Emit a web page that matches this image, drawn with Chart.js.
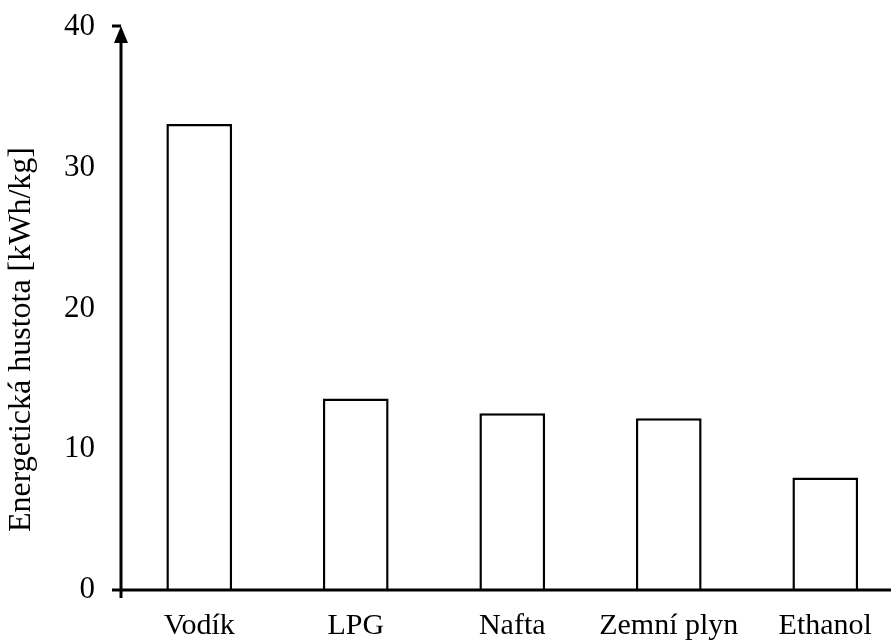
<!DOCTYPE html>
<html><head><meta charset="utf-8">
<script src="https://cdn.jsdelivr.net/npm/chart.js@4"></script>
<style>html,body{margin:0;padding:0;background:#fff}#wrap{width:891px;height:642px}</style>
</head><body><div id="wrap"><canvas id="c" width="891" height="642"></canvas></div>
<script>
const categories = ["Vodík", "LPG", "Nafta", "Zemní plyn", "Ethanol"];
const values = [33.1, 13.6, 12.55, 12.2, 8.0];
const yTicks = [0, 10, 20, 30, 40];
const yTitle = "Energetická hustota [kWh/kg]";

const axesPlugin = {
  id: 'axesPlugin',
  afterDraw(chart) {
    const ctx = chart.ctx;
    const y = chart.scales.y;
    const a = chart.chartArea;
    const x0 = a.left, y0 = y.getPixelForValue(0), yTop = y.getPixelForValue(40);
    ctx.save();
    ctx.strokeStyle = '#000';
    ctx.fillStyle = '#000';
    ctx.lineWidth = 3;
    ctx.beginPath();
    ctx.moveTo(x0, y0 + 8); ctx.lineTo(x0, yTop + 14);
    ctx.moveTo(x0 - 9, y0); ctx.lineTo(chart.width, y0);
    ctx.moveTo(x0 - 9, yTop - 1); ctx.lineTo(x0, yTop - 1);
    ctx.stroke();
    ctx.beginPath();
    ctx.moveTo(x0, yTop - 1); ctx.lineTo(x0 - 7, yTop + 16); ctx.lineTo(x0 + 7, yTop + 16); ctx.closePath();
    ctx.fill();
    // y axis title
    ctx.translate(22, (y0 + yTop) / 2 + 31);
    ctx.rotate(-Math.PI / 2);
    ctx.font = '32px "Liberation Serif"';
    ctx.textAlign = 'center';
    ctx.textBaseline = 'middle';
    ctx.fillText(yTitle, 0, 0);
    ctx.restore();
  }
};

new Chart(document.getElementById('c'), {
  type: 'bar',
  data: { datasets: [{ data: values.map((v, i) => ({ x: i, y: v })), backgroundColor: '#fff', borderColor: '#000', borderWidth: 2.5, barPercentage: 0.84, categoryPercentage: 0.5 }] },
  options: {
    responsive: false, animation: false,
    layout: { padding: { top: 27, right: 0, left: 0, bottom: 0 } },
    plugins: { legend: { display: false }, tooltip: { enabled: false } },
    scales: {
      x: {
        type: 'linear', min: -0.5, max: 4.42, offset: false,
        afterBuildTicks(s) { s.ticks = categories.map((c, i) => ({ value: i })); },
        grid: { display: false, drawTicks: false }, border: { display: false },
        ticks: { color: '#000', font: { family: 'Liberation Serif', size: 30 }, padding: 18, maxRotation: 0, autoSkip: false,
          callback: (v) => categories[v] },
        afterFit(s) { s.height = 52; s.paddingLeft = 0; s.paddingRight = 0; }
      },
      y: {
        min: 0, max: 40,
        afterBuildTicks(s) { s.ticks = yTicks.map(v => ({ value: v })); },
        grid: { display: false, drawTicks: false }, border: { display: false },
        ticks: { color: '#000', font: { family: 'Liberation Serif', size: 31 }, padding: 26 },
        afterFit(s) { s.width = 121; s.paddingTop = 0; s.paddingBottom = 0; }
      }
    }
  },
  plugins: [axesPlugin]
});
</script></body></html>
